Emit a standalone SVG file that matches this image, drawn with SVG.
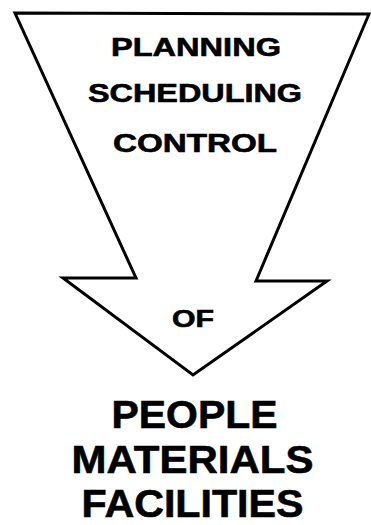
<svg xmlns="http://www.w3.org/2000/svg" width="371" height="525" viewBox="0 0 371 525">
<style>
.shape{fill:#fff;stroke:#000;stroke-width:3;stroke-linejoin:miter}
.t{font-family:"Liberation Sans",Arial,sans-serif;font-weight:bold;fill:#000;stroke:#000;stroke-width:0.6;text-anchor:middle}
.s{font-size:25px}
.l{font-size:39px}
</style>
<rect width="371" height="525" fill="#fff"/>
<g id="arrow">
<polygon class="shape" points="15,13 369,14 256,281 327,281 193,375 63,278 136,278"/>
</g>
<g id="labels-top">
<text class="t s" x="196" y="56" textLength="170" lengthAdjust="spacingAndGlyphs">PLANNING</text>
<text class="t s" x="195" y="102" textLength="214" lengthAdjust="spacingAndGlyphs">SCHEDULING</text>
<text class="t s" x="195" y="152" textLength="164" lengthAdjust="spacingAndGlyphs">CONTROL</text>
</g>
<g id="label-of">
<text class="t" x="193" y="327" font-size="23" textLength="42" lengthAdjust="spacingAndGlyphs">OF</text>
</g>
<g id="labels-bottom">
<text class="t l" x="194.5" y="428" textLength="166" lengthAdjust="spacingAndGlyphs">PEOPLE</text>
<text class="t l" x="192.5" y="473" textLength="242" lengthAdjust="spacingAndGlyphs">MATERIALS</text>
<text class="t l" x="192.5" y="517" textLength="222" lengthAdjust="spacingAndGlyphs">FACILITIES</text>
</g>
</svg>
